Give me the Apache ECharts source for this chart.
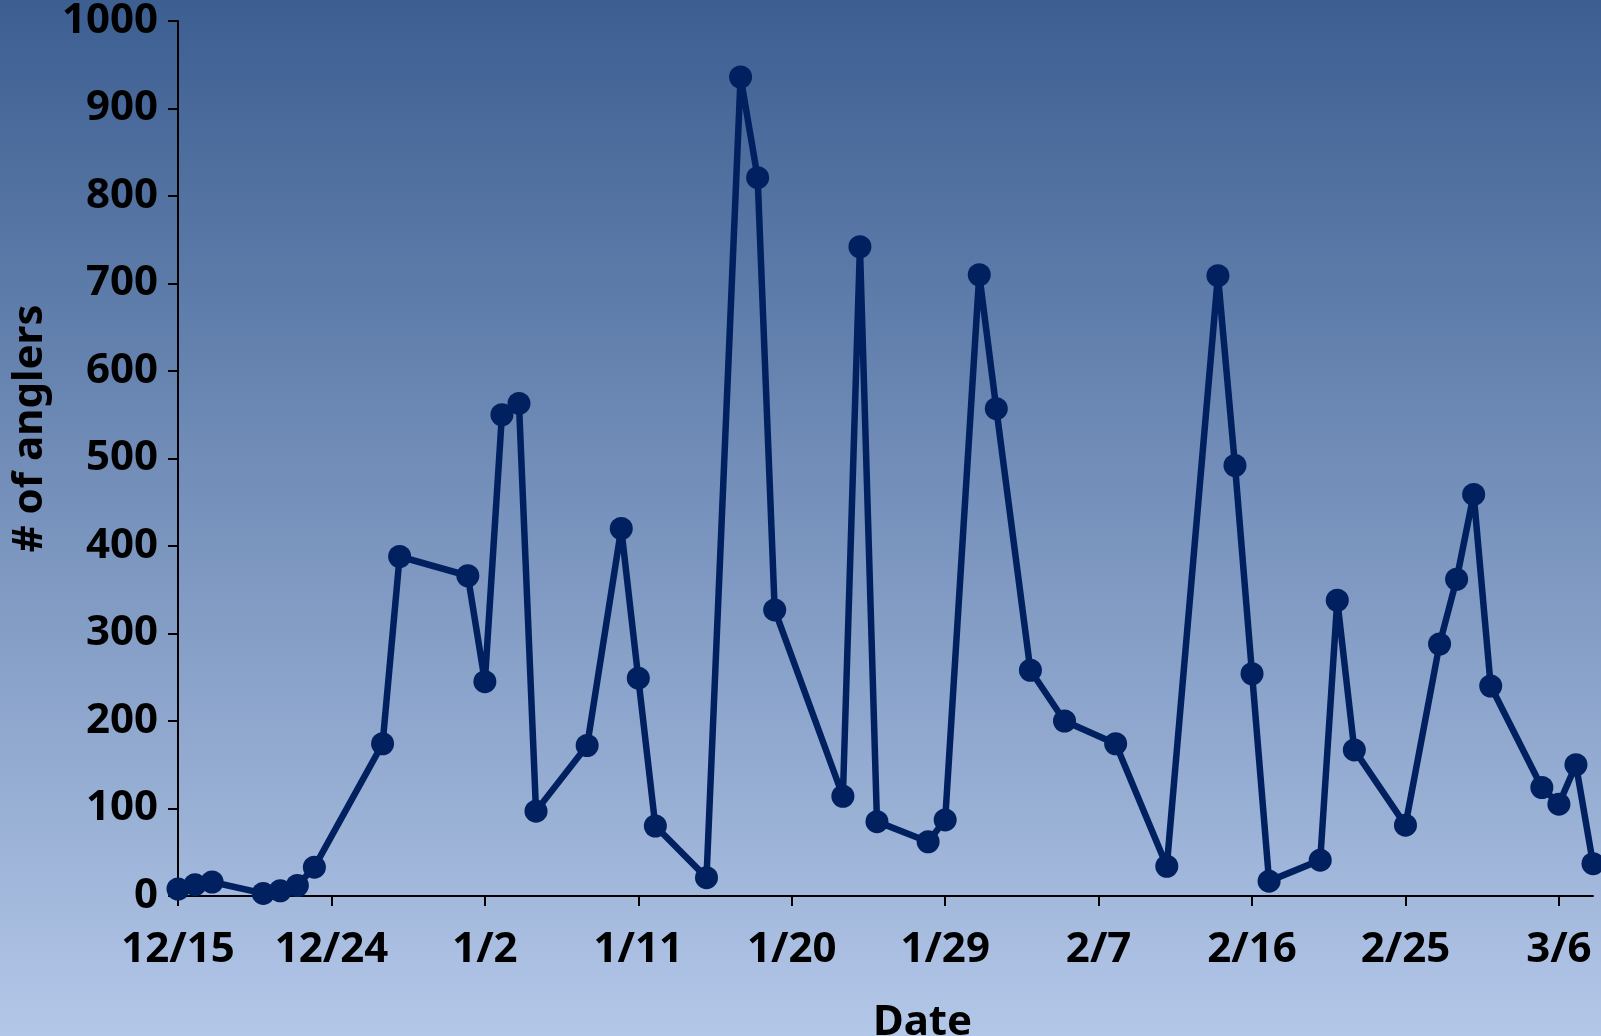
<!DOCTYPE html>
<html>
<head>
<meta charset="utf-8">
<script src="https://cdn.jsdelivr.net/npm/echarts@6/dist/echarts.min.js"></script>
<style>
html,body{margin:0;padding:0;width:1601px;height:1036px;overflow:hidden;}
#chart{width:1601px;height:1036px;}
</style>
</head>
<body>
<div id="chart"></div>
<script>
// Survey dates (winter season, Dec 15 to Mar 8)
var dates = ['12/15','12/16','12/17','12/20','12/21','12/22','12/23','12/27','12/28',
  '1/1','1/2','1/3','1/4','1/5','1/8','1/10','1/11','1/12','1/15','1/17','1/18','1/19',
  '1/23','1/24','1/25','1/28','1/29','1/31','2/1','2/3','2/5','2/8','2/11','2/14','2/15',
  '2/16','2/17','2/20','2/21','2/22','2/25','2/27','2/28','3/1','3/2','3/5','3/6','3/7','3/8'];
// Number of anglers counted on each date
var anglers = [8,13,16,3,6,12,33,174,388,366,245,550,563,97,172,420,249,80,21,936,821,327,
  114,742,85,62,87,710,557,258,200,174,34,709,492,254,17,41,338,167,81,288,362,459,240,124,105,150,37];
var yTicks = [0,100,200,300,400,500,600,700,800,900,1000];
var xName = 'Date';
var yName = '# of anglers';

var startMs = Date.UTC(2014, 11, 15);
var DAY = 86400000;
function dayIndex(md){
  var p = md.split('/'); var m = +p[0], d = +p[1];
  var y = m === 12 ? 2014 : 2015;
  return Math.round((Date.UTC(y, m - 1, d) - startMs) / DAY);
}
function dayLabel(v){
  var dt = new Date(startMs + v * DAY);
  return (dt.getUTCMonth() + 1) + '/' + dt.getUTCDate();
}
var seriesData = dates.map(function(d, i){ return [dayIndex(d), anglers[i]]; });
var lastDay = dayIndex(dates[dates.length - 1]);

var FONT = 'Noto Sans';
var FS = 42;
var chart = echarts.init(document.getElementById('chart'), null, {renderer: 'canvas'});
chart.setOption({
  backgroundColor: {
    type: 'linear', x: 0, y: 0, x2: 0, y2: 1,
    colorStops: [{offset: 0, color: '#3c5e91'}, {offset: 1, color: '#b3c7e8'}]
  },
  animation: false,
  grid: {left: 178, right: 8, top: 21, bottom: 140, containLabel: false, outerBoundsMode: 'none'},
  xAxis: {
    type: 'value', min: 0, max: lastDay, interval: 9,
    name: xName, nameLocation: 'middle', nameGap: 106,
    nameTextStyle: {fontFamily: FONT, fontWeight: 'bold', fontSize: FS, color: '#000', padding: [0,0,0,74]},
    axisLine: {show: true, lineStyle: {color: '#000', width: 2}},
    axisTick: {show: true, length: 10, lineStyle: {color: '#000', width: 2}},
    axisLabel: {fontFamily: FONT, fontWeight: 'bold', fontSize: FS, color: '#000', margin: 33,
      formatter: function(v){ return v > lastDay - 1 && v % 9 !== 0 ? '' : dayLabel(v); },
      showMaxLabel: false},
    splitLine: {show: false}
  },
  yAxis: {
    type: 'value', min: yTicks[0], max: yTicks[yTicks.length - 1], interval: yTicks[1] - yTicks[0],
    name: yName, nameLocation: 'middle', nameGap: 110, nameRotate: 90,
    nameTextStyle: {fontFamily: FONT, fontWeight: 'bold', fontSize: FS, color: '#000', padding: [0,0,0,60]},
    axisLine: {show: true, lineStyle: {color: '#000', width: 2}},
    axisTick: {show: true, length: 10, lineStyle: {color: '#000', width: 2}},
    axisLabel: {fontFamily: FONT, fontWeight: 'bold', fontSize: FS, color: '#000', margin: 20,
      formatter: function(v){ return String(v); }},
    splitLine: {show: false}
  },
  series: [{
    type: 'line', data: seriesData, clip: false,
    symbol: 'circle', symbolSize: 23,
    lineStyle: {color: '#002060', width: 6.5},
    itemStyle: {color: '#002060'}
  }]
});
</script>
</body>
</html>
